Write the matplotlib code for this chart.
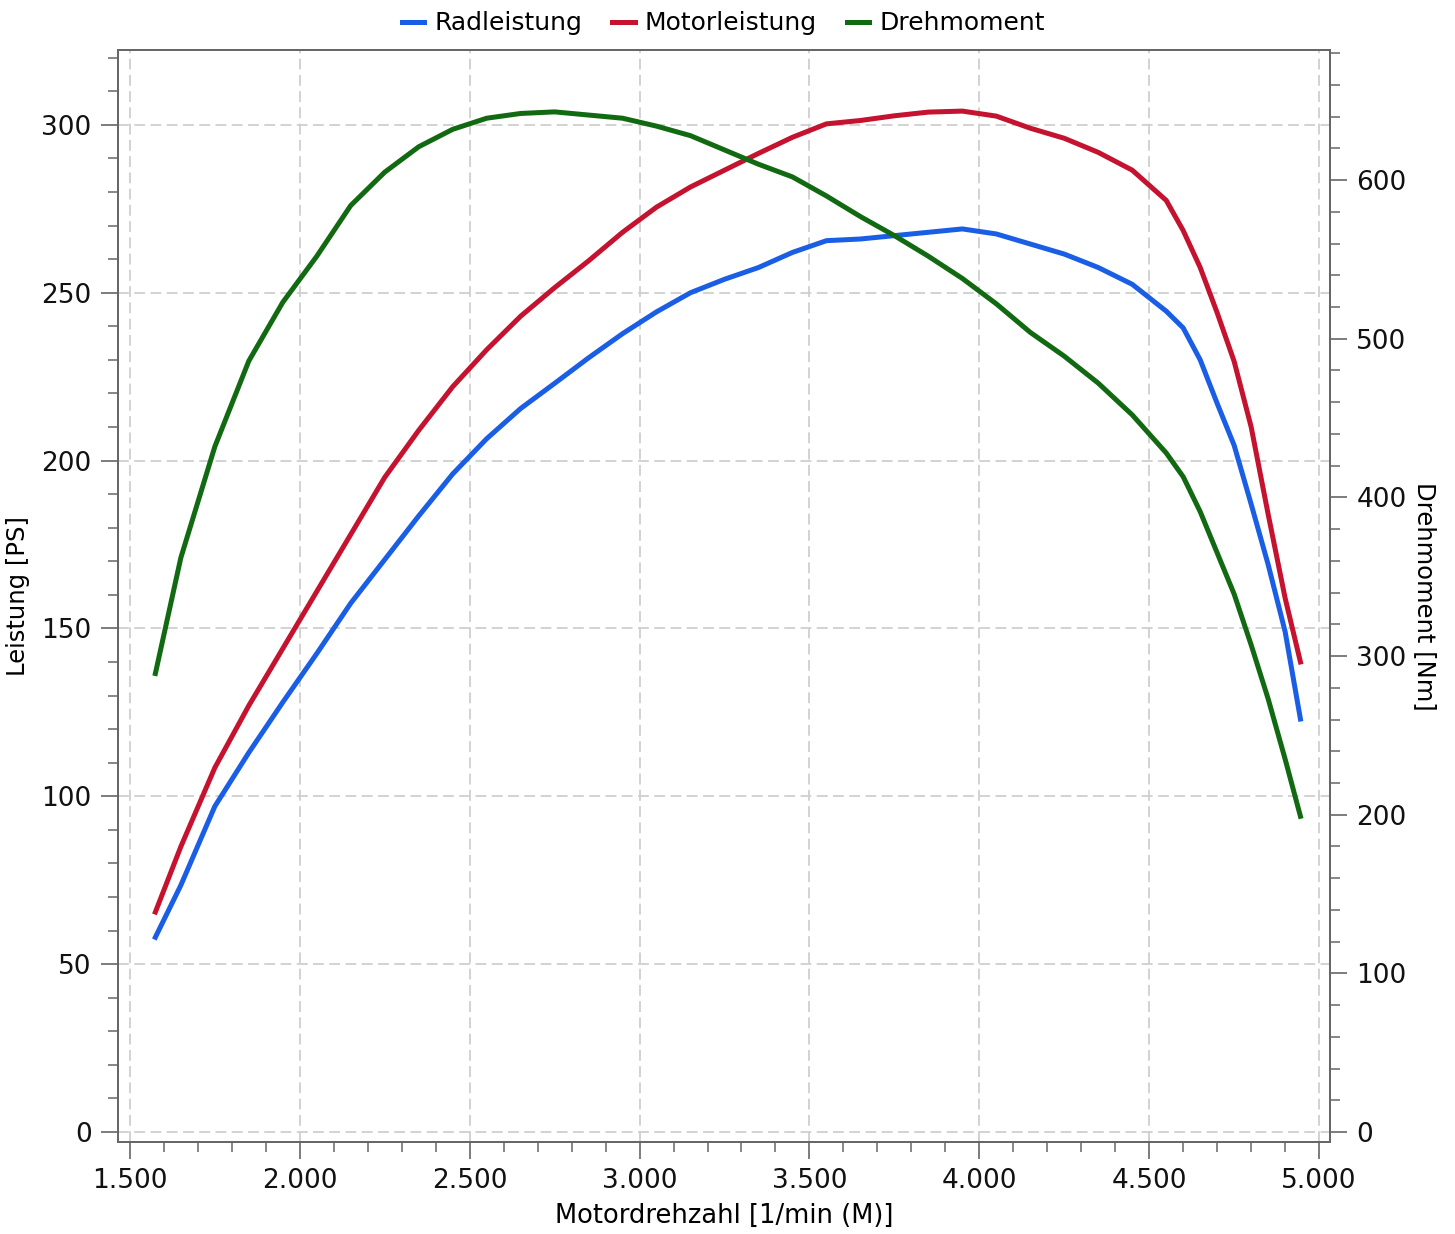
import matplotlib
matplotlib.use("Agg")
import matplotlib.pyplot as plt
from matplotlib.ticker import MultipleLocator, FuncFormatter

drehzahl = [1575, 1650, 1750, 1850, 1950, 2050, 2150, 2250, 2350, 2450,
            2550, 2650, 2750, 2850, 2950, 3050, 3150, 3250, 3350, 3450,
            3550, 3650, 3750, 3850, 3950, 4050, 4150, 4250, 4350, 4450,
            4550, 4600, 4650, 4700, 4750, 4800, 4850, 4900, 4945]

radleistung = [58, 73.5, 97, 113, 128, 142.5, 157.5, 170.5, 183.5, 196,
               206.5, 215.5, 223, 230.6, 237.8, 244.3, 250, 254, 257.5, 262,
               265.5, 266, 267, 268, 269, 267.5, 264.5, 261.5, 257.5, 252.5,
               244.5, 239.5, 230, 217, 204.5, 187, 169, 149, 123]

motorleistung = [65.5, 85, 108.5, 127, 144, 161, 178, 195, 209, 222,
                 233, 243, 251.5, 259.5, 268, 275.5, 281.5, 286.5, 291.5, 296.3,
                 300.3, 301.3, 302.7, 303.8, 304.1, 302.6, 299, 296, 291.8, 286.5,
                 277.5, 268.5, 257.5, 244, 229.5, 210, 184, 159, 140]

drehmoment = [289, 362, 432, 486, 523, 552, 584, 605, 621, 632,
              639, 642, 643, 641, 639, 634, 628, 619, 610, 602,
              590, 577, 565, 552, 538, 522, 504, 489, 472, 452,
              428, 413, 391, 365, 339, 307, 273, 235, 199]

c_rad = '#1a5ee6'
c_motor = '#c4122f'
c_dm = '#116a12'
spine_col = '#666666'

fig = plt.figure(figsize=(14.55, 12.34), dpi=100)
ax = fig.add_axes([118/1455, 1-1142/1234, (1330-118)/1455, (1142-50)/1234])
ax2 = ax.twinx()

def tausender(v, pos):
    return f'{int(round(v)):,}'.replace(',', '.')

# Gitter
ax.set_axisbelow(True)
ax.grid(True, which='major', color='#cfcfcf', linestyle=(0, (6, 3)), linewidth=1.3)

l1, = ax.plot(drehzahl, radleistung, color=c_rad, lw=3.6, label='Radleistung',
              solid_joinstyle='round')
l2, = ax.plot(drehzahl, motorleistung, color=c_motor, lw=3.6, label='Motorleistung',
              solid_joinstyle='round')
l3, = ax2.plot(drehzahl, drehmoment, color=c_dm, lw=3.6, label='Drehmoment',
               solid_joinstyle='round')

ax.set_xlim(1465, 5032)
ax.set_ylim(-3.0, 322.3)
ax2.set_ylim(-6.3, 682)

ax.xaxis.set_major_locator(MultipleLocator(500))
ax.xaxis.set_minor_locator(MultipleLocator(100))
ax.xaxis.set_major_formatter(FuncFormatter(tausender))
ax.yaxis.set_major_locator(MultipleLocator(50))
ax.yaxis.set_minor_locator(MultipleLocator(10))
ax2.yaxis.set_major_locator(MultipleLocator(100))
ax2.yaxis.set_minor_locator(MultipleLocator(20))

for a in (ax, ax2):
    for s in a.spines.values():
        s.set_color(spine_col)
        s.set_linewidth(1.3)
    a.tick_params(which='major', length=12, width=1.2, color=spine_col,
                  labelsize=19, pad=7, labelcolor='#111111')
    a.tick_params(which='minor', length=7, width=1.1, color=spine_col)

ax.set_xlabel('Motordrehzahl [1/min (M)]', fontsize=18.5, labelpad=6)
ax.set_ylabel('Leistung [PS]', fontsize=17.5, labelpad=8)
ax2.set_ylabel('Drehmoment [Nm]', fontsize=17.5, rotation=270, labelpad=22)

fig.legend(handles=[l1, l2, l3], loc='upper center', bbox_to_anchor=(0.497, 1.009),
           ncol=3, frameon=False, fontsize=18, handlelength=0.9,
           handletextpad=0.4, columnspacing=1.2)

fig.savefig('out.png', dpi=100)
